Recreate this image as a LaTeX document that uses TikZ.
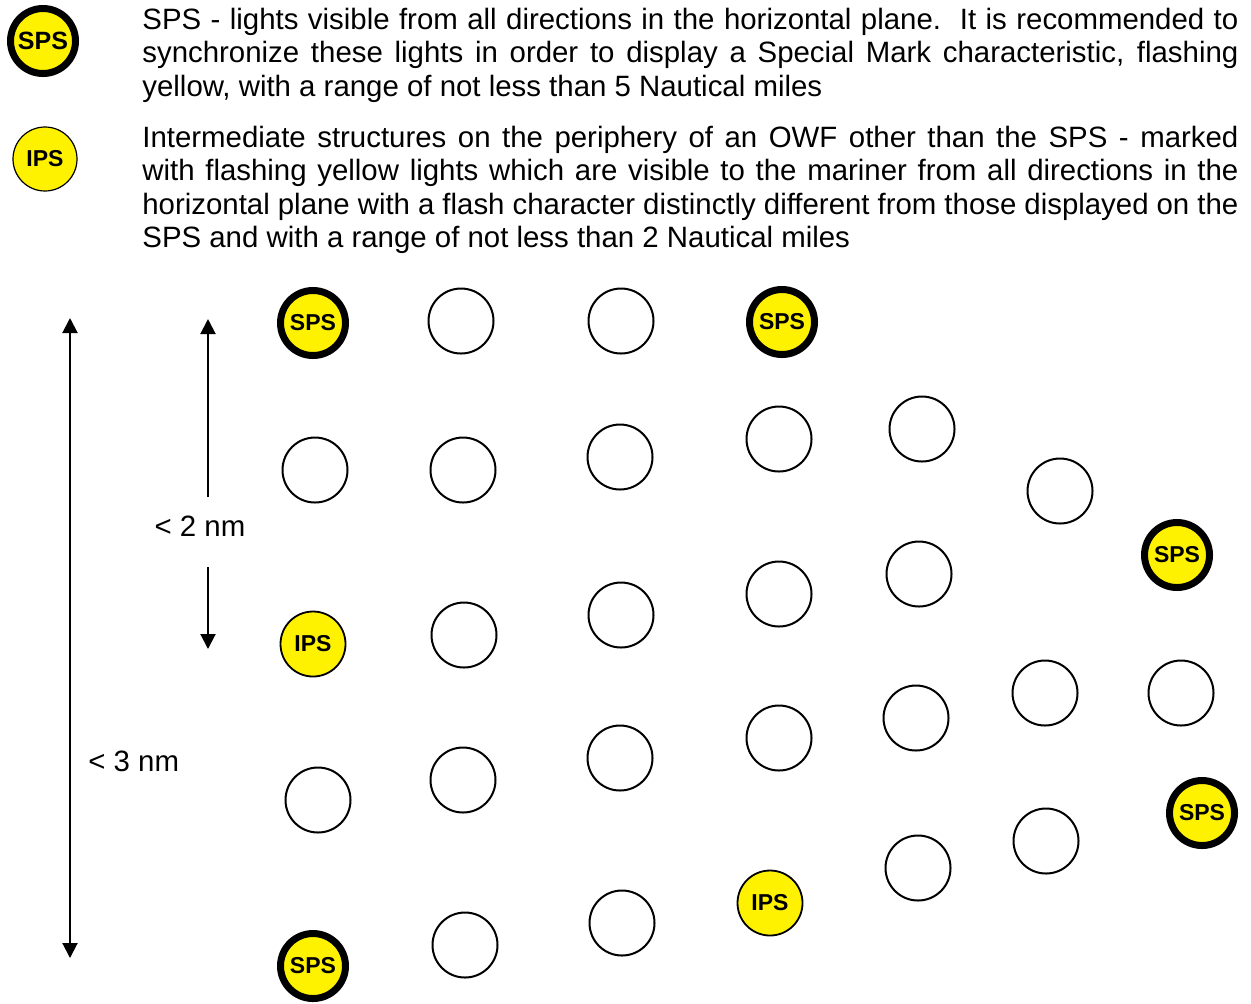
\documentclass[tikz,border=0pt]{standalone}
\usepackage{fontspec}
\setmainfont{Liberation Sans}
\usetikzlibrary{arrows.meta}
\hyphenpenalty=10000

\begin{document}
\begin{tikzpicture}[x=0.5pt,y=-0.5pt,
    pile/.style={circle, draw, line width=1pt, minimum size=32.5pt, inner sep=0pt},
    sps/.style={pile, fill=yellow, line width=3.5pt, font=\fontsize{11.5}{13}\bfseries},
    ips/.style={pile, fill=yellow, line width=0.9pt, font=\fontsize{11.5}{13}\bfseries},
    note/.style={anchor=base west, text width=548pt, align=justify, inner sep=0pt,
        font=\fontsize{14.7}{16.75}\selectfont},
    >={Triangle[length=7.5pt,width=7.5pt]}]
    \useasboundingbox (0,0) rectangle (1251,1003);
    % legend
    \node[sps, font=\fontsize{12.5}{14}\bfseries] (legsps) at (43,41) {SPS};
    \node[ips, line width=0.6pt, minimum size=32pt] (legips) at (45,159) {IPS};
    \node[note] (notesps) at (142,29) {SPS - lights visible from all directions in the horizontal plane.\ \ It is recommended to\linebreak synchronize these lights in order to display a Special Mark characteristic, flashing\linebreak yellow, with a range of not less than 5 Nautical miles};
    \node[note] (noteips) at (142,147) {Intermediate structures on the periphery of an OWF other than the SPS - marked\linebreak with flashing yellow lights which are visible to the mariner from all directions in the\linebreak horizontal plane with a flash character distinctly different from those displayed on the\linebreak SPS and with a range of not less than 2 Nautical miles};
    % structures
    \foreach \x/\y/\n in {315/470/1, 318/800/2,
        461/321/3, 463/470/4, 464/635/5, 463/780/6, 465/945/7,
        621/321/8, 620/457/9, 621/615/10, 620/758/11, 622/923/12,
        779/439/13, 779/594/14, 779/738/15,
        922/429/16, 919/574/17, 916/718/18, 918/868/19,
        1060/491/20, 1045/693/21, 1046/841/22,
        1181/693/23}
        \node[pile] (p\n) at (\x,\y) {};
    \foreach \x/\y/\n in {313/323/1, 782/322/2, 1177/555/3, 1202/813/4, 313/966/5}
        \node[sps] (s\n) at (\x,\y) {SPS};
    \foreach \x/\y/\n in {313/644/1, 770/903/2}
        \node[ips] (i\n) at (\x,\y) {IPS};
    % distances
    \coordinate (top3) at (70,318);
    \coordinate (bot3) at (70,958);
    \draw[<->, line width=1pt] (top3) -- (bot3);
    \node[anchor=west, inner sep=0pt, font=\fontsize{14.7}{16}\selectfont] (gap3) at (88,761) {< 3 nm};
    \coordinate (top2) at (208,319);
    \coordinate (bot2) at (208,649);
    \node[inner sep=0pt, font=\fontsize{14.7}{16}\selectfont] (gap2) at (200,526) {< 2 nm};
    \draw[->, line width=1pt] ([shift={(8,-29)}]gap2.center) -- (top2);
    \draw[->, line width=1pt] ([shift={(8,41)}]gap2.center) -- (bot2);
\end{tikzpicture}
\end{document}
